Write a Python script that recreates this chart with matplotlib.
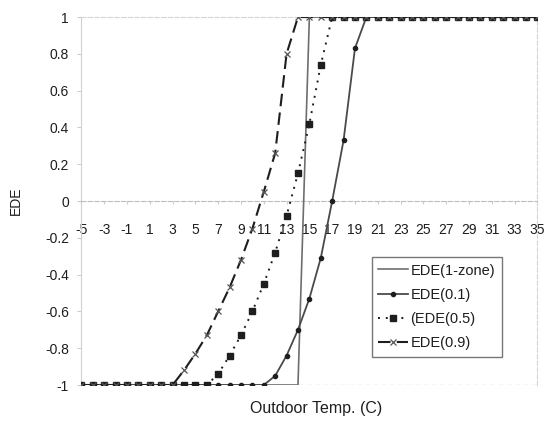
import matplotlib
matplotlib.use("Agg")
import matplotlib.pyplot as plt

plt.rcParams['font.family'] = ['Liberation Sans', 'DejaVu Sans']

# Outdoor temperature categories (C)
temps = list(range(-5, 36))

ede_1zone = [-1, -1, -1, -1, -1, -1, -1, -1, -1, -1,
             -1, -1, -1, -1, -1, -1, -1, -1, -1, -1,
             1, 1, 1, 1, 1, 1, 1, 1, 1, 1,
             1, 1, 1, 1, 1, 1, 1, 1, 1, 1, 1]
ede_01 = [-1, -1, -1, -1, -1, -1, -1, -1, -1, -1,
          -1, -1, -1, -1, -1, -1, -1, -0.95, -0.84, -0.70,
          -0.53, -0.31, 0.0, 0.33, 0.83, 1, 1, 1, 1, 1,
          1, 1, 1, 1, 1, 1, 1, 1, 1, 1, 1]
ede_05 = [-1, -1, -1, -1, -1, -1, -1, -1, -1, -1,
          -1, -1, -0.94, -0.84, -0.73, -0.60, -0.45, -0.28, -0.08, 0.15,
          0.42, 0.74, 1, 1, 1, 1, 1, 1, 1, 1,
          1, 1, 1, 1, 1, 1, 1, 1, 1, 1, 1]
ede_09 = [-1, -1, -1, -1, -1, -1, -1, -1, -1, -0.92,
          -0.83, -0.73, -0.60, -0.47, -0.32, -0.15, 0.05, 0.26, 0.80, 1,
          1, 1, 1, 1, 1, 1, 1, 1, 1, 1,
          1, 1, 1, 1, 1, 1, 1, 1, 1, 1, 1]

xticks = temps[::2]
yticks = [-1, -0.8, -0.6, -0.4, -0.2, 0, 0.2, 0.4, 0.6, 0.8, 1]
ytick_labels = ['-1', '-0.8', '-0.6', '-0.4', '-0.2', '0', '0.2', '0.4', '0.6', '0.8', '1']

fig = plt.figure(figsize=(5.5, 4.21), dpi=100)
ax = fig.add_axes([0.148, 0.0855, 0.829, 0.874])

ink = '#1e1e1e'
ax.plot(temps, ede_1zone, color='#6e6e6e', lw=1.2, label='EDE(1-zone)', zorder=3)
ax.plot(temps, ede_01, color='#4a4a4a', lw=1.3, marker='o', ms=3,
        mfc=ink, mec=ink, label='EDE(0.1)', zorder=4)
ax.plot(temps, ede_05, color=ink, lw=1.4, ls=(0, (1, 3)), marker='s', ms=4,
        mfc=ink, mec=ink, label='(EDE(0.5)', zorder=5)
ax.plot(temps, ede_09, color=ink, lw=1.5, ls=(0, (6, 3)), marker='x', ms=4,
        mew=0.9, mec='#555555', label='EDE(0.9)', zorder=6)

ax.set_xlim(-5, 35)
ax.set_ylim(-1, 1)

# x axis crosses at y = 0, labels sit well below it
ax.spines['bottom'].set_position(('data', 0))
ax.spines['bottom'].set_color('#bdbdbd')
ax.spines['bottom'].set_linestyle((0, (4, 2)))
ax.spines['left'].set_color('#d0d0d0')
for side in ('top', 'right'):
    ax.spines[side].set_color('#d6d6d6')
    ax.spines[side].set_linestyle((0, (4, 2)))
ax.axhline(-1, color='#d6d6d6', lw=1.0, ls=(0, (4, 2)), zorder=1)

ax.set_xticks(xticks)
ax.set_xticklabels([str(t) for t in xticks])
ax.set_yticks(yticks)
ax.set_yticklabels(ytick_labels)
ax.tick_params(axis='x', length=2, color='#cccccc', pad=14, labelsize=10, labelcolor=ink)
ax.tick_params(axis='y', length=3, color='#cccccc', pad=6, labelsize=10, labelcolor=ink)

ax.set_ylabel('EDE', fontsize=10, color=ink, labelpad=16)
fig.text(0.574, 0.020, 'Outdoor Temp. (C)', ha='center', fontsize=11.5, color=ink)

leg = ax.legend(loc='upper left', bbox_to_anchor=(0.637, 0.348), fontsize=10.5,
                frameon=True, fancybox=False, edgecolor='#555555',
                handlelength=2.0, handletextpad=0.2, borderpad=0.45,
                labelspacing=0.7, borderaxespad=0)
leg.get_frame().set_linewidth(1.0)
for t in leg.get_texts():
    t.set_color(ink)

fig.savefig('out.png', dpi=100)
